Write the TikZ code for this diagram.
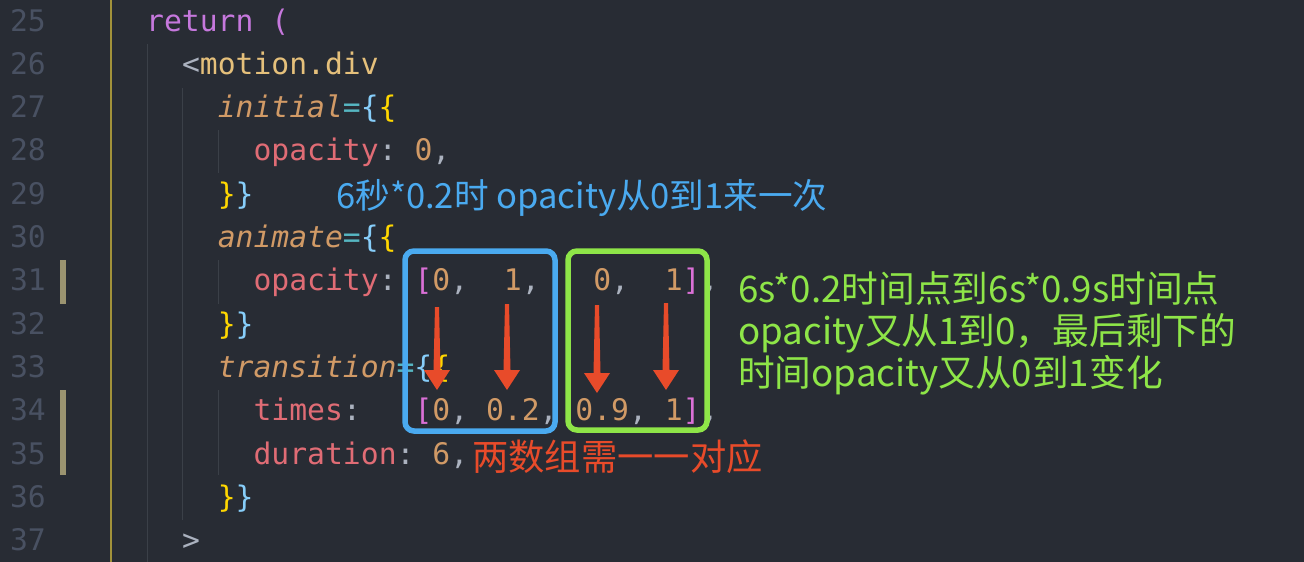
\documentclass[tikz,border=0pt]{standalone}
\usepackage{fontspec}
\setmonofont{DejaVu Sans Mono}
\newfontfamily\cjk{Noto Sans CJK SC}
\usetikzlibrary{calc}
\definecolor{bgcol}{HTML}{282C34}
\definecolor{numcol}{HTML}{495162}
\definecolor{guidecol}{HTML}{3B4048}
\definecolor{gitcol}{HTML}{9B9470}
\definecolor{rulecol}{HTML}{A2923A}
\definecolor{kw}{HTML}{C678DD}
\definecolor{tag}{HTML}{E5C07B}
\definecolor{attr}{HTML}{D19A66}
\definecolor{eq}{HTML}{56B6C2}
\definecolor{brblue}{HTML}{87CEFA}
\definecolor{brgold}{HTML}{FFD700}
\definecolor{brpink}{HTML}{DA70D6}
\definecolor{prop}{HTML}{E06C75}
\definecolor{numc}{HTML}{D19A66}
\definecolor{punc}{HTML}{ABB2BF}
\definecolor{noteblue}{HTML}{4AAAF0}
\definecolor{notegreen}{HTML}{8EE548}
\definecolor{notered}{HTML}{E84B2A}
\def\codefont{\ttfamily\fontsize{29.7}{30}\selectfont}
\def\notefont#1{\cjk\fontsize{#1}{42}\selectfont}
\def\tc#1#2{\textcolor{#1}{#2}}
\def\lny#1{31+(#1-25)*43.33}
\def\colx#1{146+#1*17.9}
\def\pointer(#1)(#2){\fill[notered] ($(#1)+(-2,0)$) -- ($(#2)+(-3.5,-20)$) -- ($(#2)+(-13,-20)$) -- (#2) -- ($(#2)+(13,-20)$) -- ($(#2)+(3.5,-20)$) -- ($(#1)+(2,0)$) -- cycle;}

\begin{document}
\begin{tikzpicture}[x=1pt,y=-1pt,
		code/.style={anchor=base west,inner sep=0pt,font=\codefont},
		num/.style={anchor=base east,inner sep=0pt,font=\codefont,text=numcol},
		note/.style={anchor=base west,inner sep=0pt},
		guide/.style={line width=1.5pt,color=guidecol},
		frame/.style={line width=5.5pt,rounded corners=9pt}]
		%%%%% START %%%%%
		
		\useasboundingbox (0, 0) rectangle (1304, 562);
		\fill[bgcol] (0, 0) rectangle (1304, 562);
		
		% gutter
		\draw[line width=2pt, color=rulecol] (111, 0) -- (111, 562);
		\fill[gitcol] (60, 260) rectangle (66, 304);
		\fill[gitcol] (60, 390) rectangle (66, 475);
		
		% indent guides
		\draw[guide] (147.5, 44) -- (147.5, 562);
		\draw[guide] (182.5, 88) -- (182.5, 520);
		\draw[guide] (218.5, 130) -- (218.5, 173);
		\draw[guide] (218.5, 260) -- (218.5, 304);
		\draw[guide] (218.5, 390) -- (218.5, 475);
		
		% line numbers
		\foreach \n in {25,...,37}
			\node[num] (n\n) at (46, {\lny{\n}}) {\n};
		
		% code
		\node[code] (l25) at ({\colx{0}}, {\lny{25}}) {\tc{kw}{return}\ \tc{kw}{(}};
		\node[code] (l26) at ({\colx{2}}, {\lny{26}}) {\tc{punc}{<}\tc{tag}{motion.div}};
		\node[code] (l27) at ({\colx{4}}, {\lny{27}}) {\tc{attr}{\itshape initial}\tc{eq}{=}\tc{brblue}{\{}\tc{brgold}{\{}};
		\node[code] (l28) at ({\colx{6}}, {\lny{28}}) {\tc{prop}{opacity}\tc{punc}{:}\ \tc{numc}{0}\tc{punc}{,}};
		\node[code] (l29) at ({\colx{4}}, {\lny{29}}) {\tc{brgold}{\}}\tc{brblue}{\}}};
		\node[code] (l30) at ({\colx{4}}, {\lny{30}}) {\tc{attr}{\itshape animate}\tc{eq}{=}\tc{brblue}{\{}\tc{brgold}{\{}};
		\node[code] (l31) at ({\colx{6}}, {\lny{31}}) {\tc{prop}{opacity}\tc{punc}{:}\ \tc{brpink}{[}\tc{numc}{0}\tc{punc}{,}\ \ \tc{numc}{1}\tc{punc}{,}\ \ \ \tc{numc}{0}\tc{punc}{,}\ \ \tc{numc}{1}\tc{brpink}{]}\tc{punc}{,}};
		\node[code] (l32) at ({\colx{4}}, {\lny{32}}) {\tc{brgold}{\}}\tc{brblue}{\}}};
		\node[code] (l33) at ({\colx{4}}, {\lny{33}}) {\tc{attr}{\itshape transition}\tc{eq}{=}\tc{brblue}{\{}\tc{brgold}{\{}};
		\node[code] (l34) at ({\colx{6}}, {\lny{34}}) {\tc{prop}{times}\tc{punc}{:}\ \ \ \tc{brpink}{[}\tc{numc}{0}\tc{punc}{,}\ \tc{numc}{0.2}\tc{punc}{,}\ \tc{numc}{0.9}\tc{punc}{,}\ \tc{numc}{1}\tc{brpink}{]}\tc{punc}{,}};
		\node[code] (l35) at ({\colx{6}}, {\lny{35}}) {\tc{prop}{duration}\tc{punc}{:}\ \tc{numc}{6}\tc{punc}{,}};
		\node[code] (l36) at ({\colx{4}}, {\lny{36}}) {\tc{brgold}{\}}\tc{brblue}{\}}};
		\node[code] (l37) at ({\colx{2}}, {\lny{37}}) {\tc{punc}{>}};
		
		% boxes
		\draw[frame, color=noteblue] (405, 251) rectangle (555, 431);
		\draw[frame, color=notegreen] (568, 251) rectangle (707, 430);
		
		% arrows
		\coordinate (a1) at (437, 307);  \coordinate (b1) at (437, 390);
		\coordinate (a2) at (507, 304);  \coordinate (b2) at (507, 390);
		\coordinate (a3) at (597, 305);  \coordinate (b3) at (597, 393);
		\coordinate (a4) at (666, 303);  \coordinate (b4) at (666, 390);
		\foreach \i in {1,...,4} {
			\pointer(a\i)(b\i)
		}
		
		% notes
		\node[note, font=\notefont{34.6}, text=noteblue] (blue) at (336, 208) {6秒*0.2时 opacity从0到1来一次};
		\node[note, font=\notefont{36.7}, text=notegreen] (g1) at (738, 302) {6s*0.2时间点到6s*0.9s时间点};
		\node[note, font=\notefont{36.7}, text=notegreen] (g2) at (738, 344) {opacity又从1到0，最后剩下的};
		\node[note, font=\notefont{36.7}, text=notegreen] (g3) at (738, 386) {时间opacity又从0到1变化};
		\node[note, font=\notefont{36.3}, text=notered] (red) at (472, 470) {两数组需一一对应};
		
		%%%%% END %%%%%
	\end{tikzpicture}
\end{document}
